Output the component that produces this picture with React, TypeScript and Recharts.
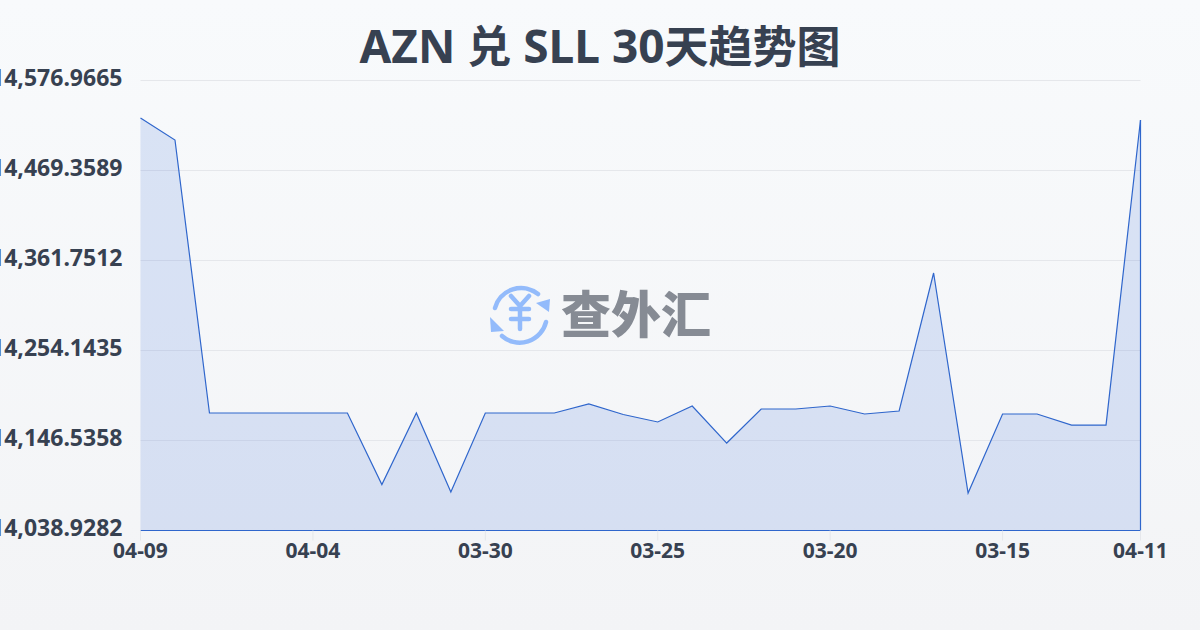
import React from 'react';
import { AreaChart, Area, XAxis, YAxis, CartesianGrid, ReferenceLine } from 'recharts';

const dates = [
  '04-09', '04-08', '04-07', '04-06', '04-05', '04-04', '04-03', '04-02', '04-01', '03-31',
  '03-30', '03-29', '03-28', '03-27', '03-26', '03-25', '03-24', '03-23', '03-22', '03-21',
  '03-20', '03-19', '03-18', '03-17', '03-16', '03-15', '03-14', '03-13', '03-12', '04-11',
];

const rates = [
  14532.1, 14505.8, 14179.4, 14179.4, 14179.4, 14179.4, 14179.4, 14093.9, 14179.4, 14084.9,
  14179.4, 14179.4, 14179.4, 14190.2, 14177.6, 14168.7, 14187.8, 14143.5, 14184.2, 14184.2,
  14187.8, 14178.2, 14181.8, 14346.8, 14083.7, 14178.2, 14178.2, 14165.0, 14165.0, 14529.7,
];

const xTicks = ['04-09', '04-04', '03-30', '03-25', '03-20', '03-15', '04-11'];
const yTicks = [14038.9282, 14146.5358, 14254.1435, 14361.7512, 14469.3589, 14576.9665];

const chartData = dates.map((date, i) => ({ date, rate: rates[i] }));

const BLUE = '#2f66cc';
const FONT = '"Noto Sans", "Noto Sans CJK SC", sans-serif';
const CJK = '"Noto Sans CJK SC", sans-serif';

const firstDate = dates[0];
const lastDate = dates[dates.length - 1];
const lastRate = rates[rates.length - 1];

const formatRate = (v: number) =>
  v.toLocaleString('en-US', { minimumFractionDigits: 4, maximumFractionDigits: 4 });

// the CJK glyphs sit a bit smaller than the latin ones in the title
const Han = ({ children }: { children: React.ReactNode }) => (
  <span style={{ fontFamily: CJK, fontSize: 44 }}>{children}</span>
);

// watermark in the middle of the plot
const Logo = () => (
  <svg width={1200} height={630} style={{ position: 'absolute', left: 0, top: 0 }}>
    <g fill="none" stroke="#93bbfb" strokeWidth={4.5} strokeLinecap="round" strokeLinejoin="round">
      <path d="M495 308 A27 27 0 0 1 538 294" />
      <path d="M546 322 A27 27 0 0 1 502 336" />
      <path d="M511 296 L520 306 L529 296 M511 309 H529 M511 319 H529 M520 306 V329" />
    </g>
    <path d="M550 299 L549 312 L536 303 Z" fill="#93bbfb" />
    <path d="M490 317 L491 332 L504 331 Z" fill="#93bbfb" />
    <text
      x={636}
      y={333}
      textAnchor="middle"
      fontSize={50}
      fontWeight={900}
      fill="#868b94"
      fontFamily={CJK}
    >
      查外汇
    </text>
  </svg>
);

export default function App() {
  return (
    <div
      style={{
        position: 'fixed',
        left: 0,
        top: 0,
        width: 1200,
        height: 630,
        overflow: 'hidden',
        background: 'linear-gradient(180deg, #f8fafc 0%, #f3f4f6 100%)',
        fontFamily: FONT,
      }}
    >
      <div
        style={{
          position: 'absolute',
          left: 0,
          top: 12,
          width: 1200,
          textAlign: 'center',
          fontSize: 46,
          lineHeight: '64px',
          fontWeight: 700,
          color: '#374151',
        }}
      >
        AZN <Han>兑</Han> SLL 30<Han>天趋势图</Han>
      </div>
      <AreaChart
        width={1200}
        height={630}
        data={chartData}
        margin={{ top: 80.5, right: 59.5, bottom: 0, left: 0 }}
      >
        <CartesianGrid vertical={false} stroke="#e5e7eb" strokeWidth={1} />
        <XAxis
          dataKey="date"
          ticks={xTicks}
          interval={0}
          height={99.5}
          axisLine={false}
          tickLine={{ stroke: '#e5e7eb' }}
          tickSize={10}
          tickMargin={3}
          tick={{ fontSize: 21, fontWeight: 700, fill: '#374151', fontFamily: FONT }}
        />
        <YAxis
          type="number"
          width={140.5}
          domain={[yTicks[0], yTicks[yTicks.length - 1]]}
          ticks={yTicks}
          tickFormatter={formatRate}
          axisLine={false}
          tickLine={false}
          tickMargin={12}
          tick={{ fontSize: 23, fontWeight: 700, fill: '#374151', fontFamily: FONT, dy: -3 }}
        />
        <Area
          type="linear"
          dataKey="rate"
          baseValue={yTicks[0]}
          stroke={BLUE}
          strokeWidth={1.2}
          fill="#2e64d8"
          fillOpacity={0.15}
          dot={false}
          activeDot={false}
          isAnimationActive={false}
        />
        <ReferenceLine stroke={BLUE} strokeWidth={1.2} segment={[{ x: firstDate, y: yTicks[0] }, { x: firstDate, y: rates[0] }]} />
        <ReferenceLine stroke={BLUE} strokeWidth={1.2} segment={[{ x: lastDate, y: yTicks[0] }, { x: lastDate, y: lastRate }]} />
        <ReferenceLine y={yTicks[0]} stroke={BLUE} strokeWidth={1.2} />
      </AreaChart>
      <Logo />
    </div>
  );
}
